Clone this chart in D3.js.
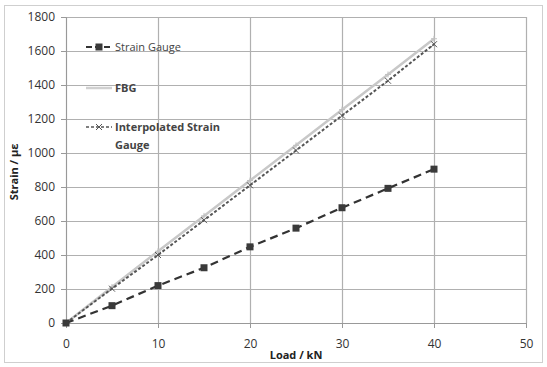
<!DOCTYPE html>
<html>
<head>
<meta charset="utf-8">
<script src="https://cdn.jsdelivr.net/npm/d3@7"></script>
<style>
body{margin:0;background:#fff;}
text{font-family:"Open Sans","Liberation Sans",sans-serif;}
</style>
</head>
<body>
<svg id="chart" width="547" height="367"></svg>
<script>
var loads = [0, 5, 10, 15, 20, 25, 30, 35, 40];
var strainGauge = [0, 102, 220, 325, 448, 558, 678, 792, 905];
var fbg = [0, 212, 422, 630, 838, 1045, 1255, 1462, 1672];
var interpolated = [0, 202, 400, 605, 810, 1015, 1220, 1425, 1640];
var xTicks = [0, 10, 20, 30, 40, 50];
var yTicks = [0, 200, 400, 600, 800, 1000, 1200, 1400, 1600, 1800];

var svg = d3.select("#chart");
var x = d3.scaleLinear().domain([0, 50]).range([66, 526]);
var y = d3.scaleLinear().domain([0, 1800]).range([323, 17]);

// outer frame
svg.append("rect").attr("x", 4.5).attr("y", 5.5).attr("width", 538).attr("height", 357)
  .attr("fill", "none").attr("stroke", "#cfcfcf");

// grid
svg.append("g").selectAll("line").data(yTicks).enter().append("line")
  .attr("x1", x(0)).attr("x2", x(50))
  .attr("y1", function(d){ return y(d) + 0.5; }).attr("y2", function(d){ return y(d) + 0.5; })
  .attr("stroke", "#b0b0b0").attr("stroke-width", 1.2);
svg.append("g").selectAll("line").data(xTicks).enter().append("line")
  .attr("y1", y(0)).attr("y2", y(1800))
  .attr("x1", function(d){ return x(d) + 0.5; }).attr("x2", function(d){ return x(d) + 0.5; })
  .attr("stroke", "#b0b0b0").attr("stroke-width", 1.2);

// axes labels
var yAxis = d3.axisLeft(y).tickValues(yTicks).tickFormat(d3.format("d")).tickSize(5).tickPadding(6);
var gy = svg.append("g").attr("transform", "translate(" + x(0) + ",0)").call(yAxis);
var xAxis = d3.axisBottom(x).tickValues(xTicks).tickFormat(d3.format("d")).tickSize(5).tickPadding(11);
var gx = svg.append("g").attr("transform", "translate(0," + y(0) + ")").call(xAxis);
[gx, gy].forEach(function(g){
  g.select(".domain").attr("stroke", "#999");
  g.selectAll(".tick line").attr("stroke", "#999");
  g.selectAll("text").attr("font-size", 12).attr("fill", "#333");
});

svg.append("text").attr("x", 296).attr("y", 359).attr("text-anchor", "middle")
  .attr("font-size", 11).attr("font-weight", "bold").attr("fill", "#222").text("Load / kN");
svg.append("text").attr("transform", "translate(18,172) rotate(-90)").attr("text-anchor", "middle")
  .attr("font-size", 11).attr("font-weight", "bold").attr("fill", "#222").text("Strain / με");

var line = function(vals){
  return d3.line().x(function(d, i){ return x(loads[i]); }).y(function(d){ return y(d); })(vals);
};

// FBG
svg.append("path").attr("d", line(fbg)).attr("fill", "none").attr("stroke", "#c8c8c8").attr("stroke-width", 2.5);
svg.append("g").selectAll("path").data(fbg).enter().append("path")
  .attr("transform", function(d, i){ return "translate(" + x(loads[i]) + "," + y(d) + ")"; })
  .attr("d", "M-3,0L3,0M0,-3L0,3").attr("stroke", "#c0c0c0").attr("stroke-width", 1);

// interpolated
svg.append("path").attr("d", line(interpolated)).attr("fill", "none").attr("stroke", "#555")
  .attr("stroke-width", 2).attr("stroke-dasharray", "3,2");
svg.append("g").selectAll("path").data(interpolated).enter().append("path")
  .attr("transform", function(d, i){ return "translate(" + x(loads[i]) + "," + y(d) + ")"; })
  .attr("d", "M-3,-3L3,3M-3,3L3,-3").attr("stroke", "#555").attr("stroke-width", 1);

// strain gauge
svg.append("path").attr("d", line(strainGauge)).attr("fill", "none").attr("stroke", "#333")
  .attr("stroke-width", 2.2).attr("stroke-dasharray", "8,5");
svg.append("g").selectAll("rect").data(strainGauge).enter().append("rect")
  .attr("x", function(d, i){ return x(loads[i]) - 3.5; }).attr("y", function(d){ return y(d) - 3.5; })
  .attr("width", 7).attr("height", 7).attr("fill", "#3a3a3a");

// legend
var legend = svg.append("g");
var leg = [
  {name: ["Strain Gauge"], yy: 47},
  {name: ["FBG"], yy: 88},
  {name: ["Interpolated Strain", "Gauge"], yy: 127}
];
leg.forEach(function(l, k){
  var g = legend.append("g").attr("transform", "translate(0," + l.yy + ")");
  if(k == 0){
    g.append("line").attr("x1", 86).attr("x2", 112).attr("y1", 0).attr("y2", 0)
      .attr("stroke", "#333").attr("stroke-width", 2).attr("stroke-dasharray", "6,3");
    g.append("rect").attr("x", 95.5).attr("y", -3.5).attr("width", 7).attr("height", 7).attr("fill", "#3a3a3a");
  } else if(k == 1){
    g.append("line").attr("x1", 86).attr("x2", 112).attr("y1", 0).attr("y2", 0)
      .attr("stroke", "#d0d0d0").attr("stroke-width", 2.5);
  } else {
    g.append("line").attr("x1", 86).attr("x2", 112).attr("y1", 0).attr("y2", 0)
      .attr("stroke", "#555").attr("stroke-width", 1.5).attr("stroke-dasharray", "3,2");
    g.append("path").attr("d", "M96,-3L102,3M96,3L102,-3").attr("stroke", "#555");
  }
  l.name.forEach(function(t, j){
    g.append("text").attr("x", 115).attr("y", 4 + j * 18).attr("font-size", 11)
      .attr("font-weight", k == 0 ? "normal" : "bold").attr("fill", "#444").text(t);
  });
});
</script>
</body>
</html>
